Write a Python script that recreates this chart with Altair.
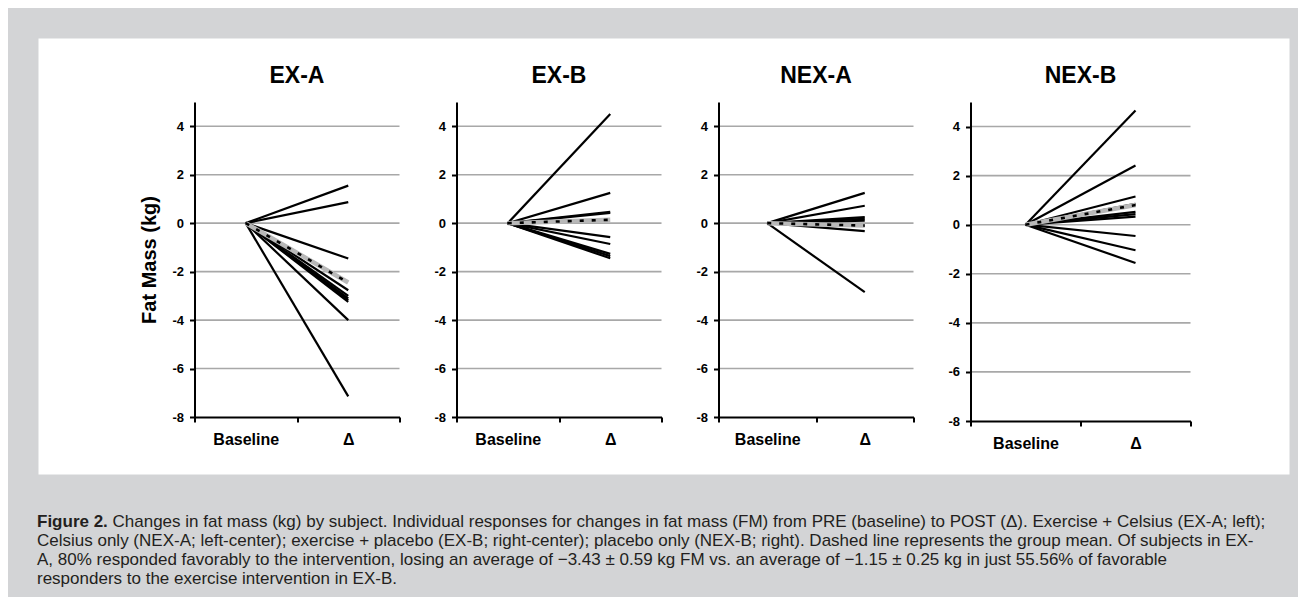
import altair as alt
import pandas as pd

FONT = "Liberation Sans"

PANELS = ["EX-A", "EX-B", "NEX-A", "NEX-B"]
TIMES = ["Baseline", "Δ"]
BASELINE_VALUE = 0.0

# Δ fat mass (kg) per subject
EXA_END = [1.55, 0.87, -1.46, -2.77, -3.0, -3.1, -3.18, -3.25, -4.0, -7.15]
EXB_END = [4.5, 1.25, 0.47, 0.42, -0.58, -0.86, -1.27, -1.36, -1.45]
NEXA_END = [1.25, 0.72, 0.25, 0.18, 0.1, -0.33, -2.85]
NEXB_END = [4.65, 2.41, 1.15, 0.85, 0.52, 0.43, 0.33, -0.46, -1.04, -1.56]
MEAN_END = [-2.45, 0.14, -0.1, 0.8]

Y_TICKS = [-8, -6, -4, -2, 0, 2, 4]
GRID_VALUES = [-6, -4, -2, 0, 2, 4]

CAPTION_LEAD = "Figure 2."
CAPTION_FIRST = ("Changes in fat mass (kg) by subject. Individual responses for changes in fat mass (FM) "
                 "from PRE (baseline) to POST (Δ). Exercise + Celsius (EX-A; left);")
CAPTION_REST = [
    "Celsius only (NEX-A; left-center); exercise + placebo (EX-B; right-center); placebo only (NEX-B; right). "
    "Dashed line represents the group mean. Of subjects in EX-",
    "A, 80% responded favorably to the intervention, losing an average of −3.43 ± 0.59 kg FM vs. an average of "
    "−1.15 ± 0.25 kg in just 55.56% of favorable",
    "responders to the exercise intervention in EX-B.",
]

ENDS = [EXA_END, EXB_END, NEXA_END, NEXB_END]
WIDTHS = [205, 205, 195, 220]
HEIGHTS = [315, 315, 315, 319]

BG = "#d3d4d6"
CAP_SIZE = 17
CAP_COLOR = "#231f20"


def make_panel(i):
    name = PANELS[i]
    rows = []
    for s, v in enumerate(ENDS[i]):
        rows.append({"subject": s, "time": TIMES[0], "value": BASELINE_VALUE})
        rows.append({"subject": s, "time": TIMES[1], "value": v})
    df = pd.DataFrame(rows)
    mean_df = pd.DataFrame({"time": TIMES, "value": [BASELINE_VALUE, MEAN_END[i]]})
    grid_df = pd.DataFrame({"value": GRID_VALUES})

    x_enc = alt.X(
        "time:N", sort=TIMES, bandPosition=0.5,
        scale=alt.Scale(type="band", domain=TIMES, paddingInner=0, paddingOuter=0),
        axis=alt.Axis(title=None, labelAngle=0, tickBand="extent", domainColor="black",
                      domainWidth=2, tickColor="black", tickWidth=2, tickSize=5,
                      labelFont=FONT, labelFontSize=16, labelFontWeight="bold",
                      labelColor="black", labelPadding=9, zindex=1),
    )
    y_axis = dict(values=Y_TICKS, grid=False, domainColor="black", domainWidth=2,
                  tickColor="black", tickWidth=2, tickSize=5, labelFont=FONT,
                  labelFontSize=13, labelFontWeight="bold", labelColor="black",
                  labelPadding=6, labelExpr="'' + datum.value", zindex=1)
    if i == 0:
        y_axis.update(title="Fat Mass (kg)", titleFont=FONT, titleFontSize=20,
                      titleFontWeight="bold", titleColor="black", titlePadding=12)
    else:
        y_axis.update(title=None)
    y_enc = alt.Y("value:Q", scale=alt.Scale(domain=[-8, 5], nice=False, zero=False),
                  axis=alt.Axis(**y_axis))

    grid = alt.Chart(grid_df).mark_rule(color="#a8a8a8", strokeWidth=1.6).encode(y=y_enc)
    lines = alt.Chart(df).mark_line(color="black", strokeWidth=2.2).encode(
        x=x_enc, y=y_enc, detail="subject:N")
    mean_band = alt.Chart(mean_df).mark_line(color="#b8b8b8", strokeWidth=4.5).encode(x=x_enc, y=y_enc)
    mean_dash = alt.Chart(mean_df).mark_line(color="black", strokeWidth=2.6,
                                             strokeDash=[4, 8]).encode(x=x_enc, y=y_enc)
    layers = [grid, lines, mean_band, mean_dash]
    title_offset = 14

    if i == 0:
        one = pd.DataFrame({"k": [0]})
        panel_bg = alt.Chart(one).mark_rect(color="white").encode(
            x=alt.value(-156), x2=alt.value(1095), y=alt.value(-63.5), y2=alt.value(372.5))
        lead = alt.Chart(one).mark_text(
            text=CAPTION_LEAD, align="left", baseline="alphabetic", font=FONT,
            fontSize=CAP_SIZE, fontWeight="bold", color=CAP_COLOR).encode(
            x=alt.value(-157.5), y=alt.value(424.5))
        first = alt.Chart(one).mark_text(
            text=CAPTION_FIRST, align="left", baseline="alphabetic", font=FONT,
            fontSize=CAP_SIZE, color=CAP_COLOR).encode(
            x=alt.value(-157.5 + 75.5), y=alt.value(424.5))
        rest = alt.Chart(one).mark_text(
            text=CAPTION_REST, align="left", baseline="alphabetic", font=FONT,
            fontSize=CAP_SIZE, lineHeight=19, color=CAP_COLOR).encode(
            x=alt.value(-157.5), y=alt.value(443.5))
        layers = [panel_bg] + layers + [lead, first, rest]
        title_offset = 14 - 63.5

    return alt.layer(*layers).properties(
        width=WIDTHS[i], height=HEIGHTS[i],
        title=alt.TitleParams(text=name, font=FONT, fontSize=23, fontWeight="bold",
                              color="black", anchor="middle", offset=title_offset),
    )


chart = alt.hconcat(*[make_panel(i) for i in range(4)], spacing=57, bounds="flush").properties(
    background=BG,
    padding={"left": 28.5, "top": 30, "right": 8, "bottom": 10},
).configure_view(stroke=None)

chart.save("out.html", embed_options={"renderer": "svg", "actions": False})
